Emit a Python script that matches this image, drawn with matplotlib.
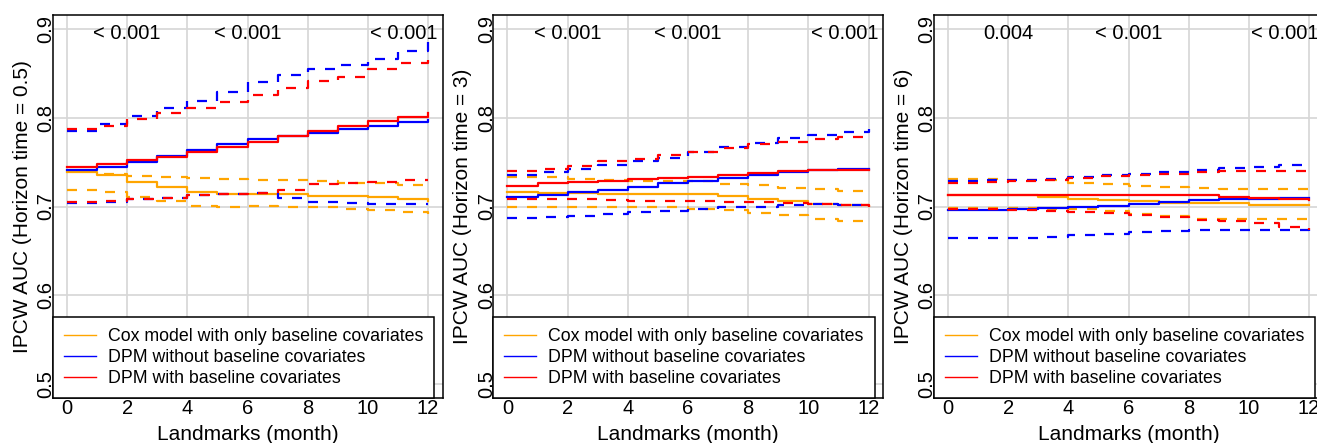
import matplotlib.pyplot as plt
from matplotlib.lines import Line2D
import matplotlib as mpl

mpl.rcParams['font.family'] = ['Liberation Sans', 'DejaVu Sans']

months = [0, 1, 2, 3, 4, 5, 6, 7, 8, 9, 10, 11, 12]
horizons = ["0.5", "3", "6"]
legend_labels = ["Cox model with only baseline covariates",
                 "DPM without baseline covariates",
                 "DPM with baseline covariates"]
pvalue_x = [2, 6, 11.2]

# horizon 0.5
h05_cox    = [0.739, 0.736, 0.728, 0.722, 0.716, 0.714, 0.714, 0.714, 0.712, 0.712, 0.711, 0.708, 0.706]
h05_cox_lo = [0.719, 0.716, 0.711, 0.706, 0.701, 0.700, 0.701, 0.700, 0.700, 0.697, 0.696, 0.694, 0.691]
h05_cox_hi = [0.740, 0.737, 0.734, 0.733, 0.732, 0.731, 0.730, 0.730, 0.729, 0.727, 0.726, 0.724, 0.721]
h05_nob    = [0.741, 0.745, 0.750, 0.757, 0.764, 0.770, 0.776, 0.779, 0.783, 0.787, 0.791, 0.795, 0.798]
h05_nob_lo = [0.704, 0.705, 0.708, 0.710, 0.713, 0.714, 0.715, 0.710, 0.705, 0.704, 0.703, 0.703, 0.703]
h05_nob_hi = [0.785, 0.793, 0.802, 0.811, 0.819, 0.829, 0.840, 0.848, 0.855, 0.860, 0.866, 0.875, 0.885]
h05_wb     = [0.745, 0.748, 0.752, 0.756, 0.761, 0.767, 0.773, 0.779, 0.785, 0.791, 0.797, 0.801, 0.805]
h05_wb_lo  = [0.705, 0.706, 0.708, 0.710, 0.713, 0.714, 0.715, 0.719, 0.725, 0.727, 0.728, 0.730, 0.730]
h05_wb_hi  = [0.787, 0.791, 0.799, 0.806, 0.811, 0.818, 0.826, 0.834, 0.841, 0.846, 0.855, 0.862, 0.871]
h05_pvals  = ["< 0.001", "< 0.001", "< 0.001"]

# horizon 3
h3_cox    = [0.716, 0.715, 0.715, 0.714, 0.714, 0.714, 0.714, 0.712, 0.709, 0.706, 0.703, 0.702, 0.701]
h3_cox_lo = [0.700, 0.700, 0.700, 0.700, 0.700, 0.699, 0.697, 0.696, 0.693, 0.690, 0.686, 0.684, 0.682]
h3_cox_hi = [0.733, 0.733, 0.731, 0.730, 0.729, 0.729, 0.729, 0.725, 0.724, 0.721, 0.720, 0.718, 0.717]
h3_nob    = [0.711, 0.713, 0.716, 0.719, 0.722, 0.726, 0.729, 0.732, 0.736, 0.739, 0.741, 0.742, 0.742]
h3_nob_lo = [0.687, 0.688, 0.689, 0.692, 0.694, 0.695, 0.697, 0.699, 0.700, 0.702, 0.703, 0.702, 0.700]
h3_nob_hi = [0.736, 0.739, 0.742, 0.747, 0.751, 0.755, 0.761, 0.767, 0.772, 0.777, 0.781, 0.784, 0.787]
h3_wb     = [0.723, 0.726, 0.728, 0.729, 0.731, 0.732, 0.733, 0.735, 0.738, 0.740, 0.741, 0.741, 0.741]
h3_wb_lo  = [0.708, 0.708, 0.708, 0.707, 0.706, 0.706, 0.706, 0.705, 0.705, 0.704, 0.703, 0.702, 0.699]
h3_wb_hi  = [0.740, 0.742, 0.746, 0.751, 0.754, 0.758, 0.761, 0.766, 0.770, 0.773, 0.776, 0.778, 0.779]
h3_pvals  = ["< 0.001", "< 0.001", "< 0.001"]

# horizon 6
h6_cox    = [0.713, 0.713, 0.713, 0.711, 0.709, 0.707, 0.706, 0.704, 0.704, 0.704, 0.702, 0.702, 0.702]
h6_cox_lo = [0.698, 0.698, 0.698, 0.697, 0.697, 0.695, 0.692, 0.689, 0.686, 0.686, 0.686, 0.686, 0.686]
h6_cox_hi = [0.731, 0.731, 0.730, 0.730, 0.727, 0.725, 0.723, 0.722, 0.721, 0.720, 0.720, 0.720, 0.720]
h6_nob    = [0.696, 0.696, 0.697, 0.698, 0.699, 0.701, 0.703, 0.705, 0.707, 0.708, 0.709, 0.710, 0.710]
h6_nob_lo = [0.664, 0.665, 0.665, 0.666, 0.668, 0.669, 0.671, 0.672, 0.674, 0.674, 0.674, 0.674, 0.672]
h6_nob_hi = [0.729, 0.730, 0.730, 0.731, 0.733, 0.735, 0.737, 0.739, 0.741, 0.743, 0.745, 0.747, 0.747]
h6_wb     = [0.713, 0.713, 0.713, 0.713, 0.713, 0.713, 0.713, 0.713, 0.713, 0.711, 0.710, 0.709, 0.707]
h6_wb_lo  = [0.697, 0.697, 0.696, 0.695, 0.694, 0.693, 0.690, 0.688, 0.685, 0.684, 0.681, 0.677, 0.673]
h6_wb_hi  = [0.727, 0.728, 0.729, 0.730, 0.732, 0.734, 0.736, 0.737, 0.739, 0.740, 0.740, 0.740, 0.740]
h6_pvals  = ["0.004", "< 0.001", "< 0.001"]

panels = [
    (h05_cox, h05_cox_lo, h05_cox_hi, h05_nob, h05_nob_lo, h05_nob_hi, h05_wb, h05_wb_lo, h05_wb_hi, h05_pvals),
    (h3_cox, h3_cox_lo, h3_cox_hi, h3_nob, h3_nob_lo, h3_nob_hi, h3_wb, h3_wb_lo, h3_wb_hi, h3_pvals),
    (h6_cox, h6_cox_lo, h6_cox_hi, h6_nob, h6_nob_lo, h6_nob_hi, h6_wb, h6_wb_lo, h6_wb_hi, h6_pvals),
]
COLORS = ['#FFA500', '#0000FF', '#FF0000']

W, H = 1317, 443
fig = plt.figure(figsize=(W / 100, H / 100), dpi=100)

lefts = [52.5, 493, 933.5]
ax_w, ax_b, ax_h = 390, 45, 383

for k, (left, horizon, pdata) in enumerate(zip(lefts, horizons, panels)):
    ax = fig.add_axes([left / W, ax_b / H, ax_w / W, ax_h / H])
    ax.set_xlim(-0.48, 12.48)
    ax.set_ylim(0.484, 0.916)
    ax.set_axisbelow(True)
    ax.grid(True, color='#D6D6D6', lw=1.2)

    series = pdata[:9]
    for j in range(3):
        est, lo, hi = series[3 * j], series[3 * j + 1], series[3 * j + 2]
        c = COLORS[j]
        ax.plot(months, lo, color=c, lw=1.6, ls=(0, (4.5, 4.5)), drawstyle='steps-post')
        ax.plot(months, hi, color=c, lw=1.6, ls=(0, (4.5, 4.5)), drawstyle='steps-post')
        ax.plot(months, est, color=c, lw=1.6, drawstyle='steps-post')

    for xp, s in zip(pvalue_x, pdata[9]):
        ax.text(xp, 0.8884, s, ha='center', va='baseline', fontsize=14.5, clip_on=True)

    ax.set_xticks([0, 2, 4, 6, 8, 10, 12])
    ax.set_yticks([0.5, 0.6, 0.7, 0.8, 0.9])
    ax.set_yticklabels(['0.5', '0.6', '0.7', '0.8', '0.9'], rotation=90, va='center')
    ax.tick_params(axis='x', length=0, pad=1, labelsize=14.5)
    ax.tick_params(axis='y', length=0, pad=-2, labelsize=14.5)
    for sp in ax.spines.values():
        sp.set_color('black')
        sp.set_linewidth(1.1)

    ax.set_xlabel("Landmarks (month)", fontsize=15, va='baseline')
    ax.xaxis.set_label_coords(0.5, -0.1097)
    ax.set_ylabel(f"IPCW AUC (Horizon time = {horizon})", fontsize=15, va='center')
    ax.yaxis.set_label_coords(-0.078, 0.5)

    handles = [Line2D([], [], color=c, lw=1.0) for c in COLORS]
    leg = ax.legend(handles, legend_labels, loc='lower left', bbox_to_anchor=(0, 0),
                    borderaxespad=0, fancybox=False, edgecolor='black', framealpha=1,
                    fontsize=12.8, handlelength=1.8, handletextpad=0.7,
                    labelspacing=0.22, borderpad=0.62)
    leg.get_frame().set_linewidth(1.1)

fig.savefig('out.png', dpi=100)
